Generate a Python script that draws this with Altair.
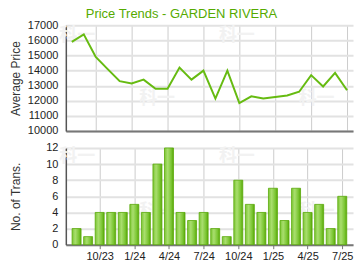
import altair as alt
import pandas as pd

months = ["8/23", "9/23", "10/23", "11/23", "12/23", "1/24", "2/24", "3/24",
          "4/24", "5/24", "6/24", "7/24", "8/24", "9/24", "10/24", "11/24",
          "12/24", "1/25", "2/25", "3/25", "4/25", "5/25", "6/25", "7/25"]
prices = [15900, 16400, 14900, 14100, 13300, 13150, 13400, 12800,
          12800, 14200, 13400, 14000, 12150, 14000, 11850, 12300,
          12150, 12250, 12350, 12600, 13700, 12950, 13850, 12700]
trans = [2, 1, 4, 4, 4, 5, 4, 10, 12, 4, 3, 4, 2, 1, 8, 5, 4, 7, 3, 7, 4, 5, 2, 6]
tick_labels = ["10/23", "1/24", "4/24", "7/24", "10/24", "1/25", "4/25", "7/25"]

tick_idx = [months.index(t) for t in tick_labels]
df = pd.DataFrame({"i": list(range(len(months))), "month": months,
                   "price": prices, "trans": trans})

label_expr = "[" + ",".join("'%s'" % m for m in months) + "][datum.value]"
xscale = alt.Scale(domain=[-0.5, len(months) - 0.5], nice=False, zero=False)

W, H1, H2 = 288, 106, 97


def watermarks(spots):
    layers = []
    for (wx, wy) in spots:
        layers.append(
            alt.Chart(alt.Data(values=[{}])).mark_text(
                text="科一", font="Noto Sans CJK SC", fontSize=18, fontWeight="bold",
                color="#f2f2f2", x=wx, y=wy)
        )
    return layers


top_line = alt.Chart(df).mark_line(color="#66bb11", strokeWidth=2).encode(
    x=alt.X("i:Q", scale=xscale,
            axis=alt.Axis(values=tick_idx, labels=False, ticks=False, title=None,
                          grid=True, gridColor="#cccccc", gridWidth=1,
                          domainColor="#777777", domainWidth=2)),
    y=alt.Y("price:Q", scale=alt.Scale(domain=[10000, 17000], nice=False, zero=False),
            axis=alt.Axis(values=list(range(10000, 17001, 1000)), format="d",
                          title="Average Price",
                          titleX=-50, titleY=H1 / 2, titleBaseline="middle",
                          gridColor="#e2e2e2", gridWidth=2, ticks=False,
                          labelPadding=8, domainColor="#555555", domainWidth=1.5)),
)
top = alt.layer(*watermarks([(11.5, 11), (91.5, 74), (171.5, 11), (251.5, 74)]),
                top_line).properties(width=W, height=H1)

grad = alt.Gradient(gradient="linear", x1=0, x2=1, y1=0, y2=0,
                    stops=[alt.GradientStop(offset=0, color="#7cc634"),
                           alt.GradientStop(offset=0.35, color="#a9de6e"),
                           alt.GradientStop(offset=0.75, color="#7cc634"),
                           alt.GradientStop(offset=1, color="#58a808")])

bars = alt.Chart(df).mark_bar(size=9, color=grad, stroke="#5aaa0a", strokeWidth=0.8).encode(
    x=alt.X("i:Q", scale=xscale,
            axis=alt.Axis(values=tick_idx, labelExpr=label_expr, title=None,
                          grid=True, gridColor="#cccccc", gridWidth=1,
                          ticks=True, tickSize=4, tickColor="#777777",
                          labelPadding=2, domainColor="#777777", domainWidth=2)),
    y=alt.Y("trans:Q", scale=alt.Scale(domain=[0, 12], nice=False),
            axis=alt.Axis(values=list(range(0, 13, 2)), format="d", title="No. of Trans.",
                          titleX=-50, titleY=H2 / 2, titleBaseline="middle",
                          gridColor="#e2e2e2", gridWidth=2, ticks=False,
                          labelPadding=8, domainColor="#555555", domainWidth=1.5)),
)
bottom = alt.layer(*watermarks([(11.5, 9), (91.5, 64.5), (171.5, 9), (251.5, 64.5)]),
                   bars).properties(width=W, height=H2)

chart = alt.vconcat(top, bottom, spacing=17, bounds="flush").properties(
    title=alt.TitleParams("Price Trends - GARDEN RIVERA", color="#55aa00",
                          fontSize=13, fontWeight="normal", font="Liberation Sans",
                          anchor="middle", offset=-2),
    padding={"left": 9, "top": 8, "right": 7, "bottom": 5},
).configure_view(stroke=None).configure_axis(
    labelFont="Liberation Sans", titleFont="Liberation Sans",
    labelFontSize=11, titleFontSize=12, labelColor="#222222", titleColor="#333333",
    titleFontWeight="normal",
)

chart.save("out.html", embed_options={"renderer": "svg", "actions": False})
